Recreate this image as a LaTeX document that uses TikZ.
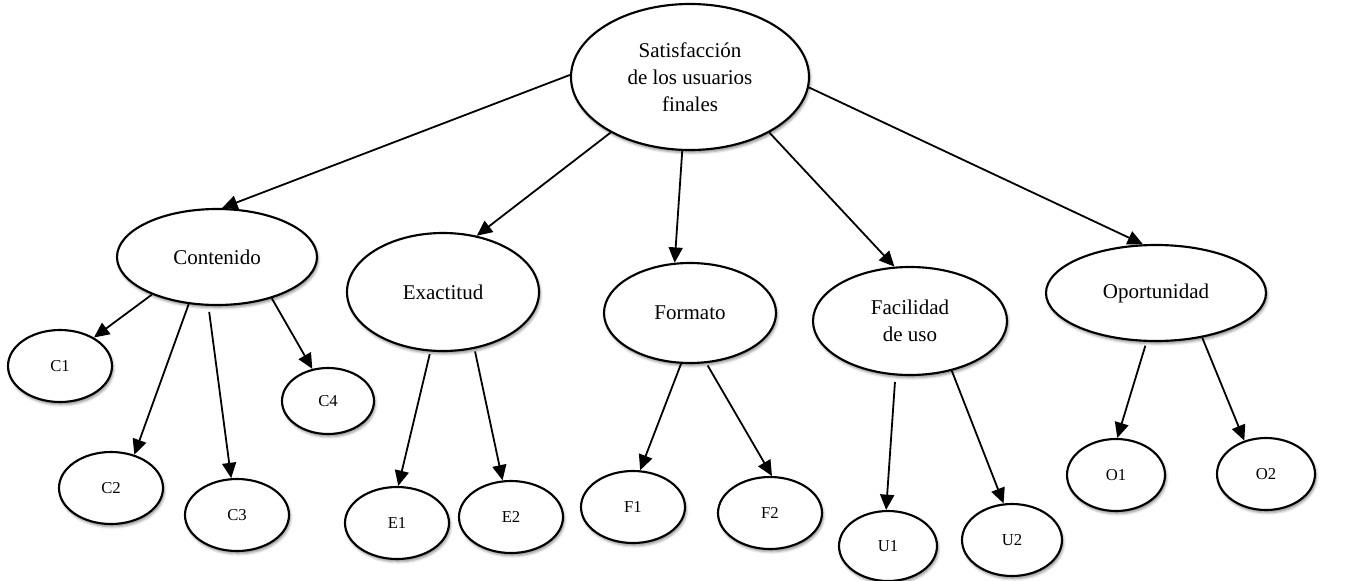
\documentclass[tikz,border=0pt]{standalone}
\usepackage{fontspec}
\setmainfont{Liberation Serif}
\usetikzlibrary{shapes}
\usetikzlibrary{shadows.blur}
\usetikzlibrary{arrows.meta}

\tikzset{
  elip/.style={draw, ellipse, line width=1.6pt, fill=white, inner sep=0pt, align=center,
    blur shadow={shadow xshift=1pt, shadow yshift=-2pt, shadow blur radius=2pt, shadow opacity=45}},
  bigelip/.style={elip, font=\fontsize{15.75}{20.25}\selectfont},
  smallelip/.style={elip, minimum width=78pt, minimum height=54pt, font=\fontsize{12.5}{14}\selectfont},
  flecha/.style={line width=1.35pt, -{Triangle[length=11.5pt,width=10.5pt]}}
}

\begin{document}
\begin{tikzpicture}[x=0.75pt,y=0.75pt,yscale=-1,xscale=1]
\useasboundingbox (0,0) rectangle (1351,581);

%Shape: Ellipse [root]
\node [bigelip, minimum width=178.5pt, minimum height=109.5pt] (root) at (690,77) {\raisebox{-3pt}{\parbox{120pt}{\centering Satisfacción\\de los usuarios\\finales}}};

%Shape: Ellipse [segundo nivel]
\node [bigelip, minimum width=150pt, minimum height=72pt] (cont) at (217,257) {Contenido};
\node [bigelip, minimum width=144pt, minimum height=88.5pt] (exac) at (443,292) {Exactitud};
\node [bigelip, minimum width=129pt, minimum height=75pt] (form) at (690,313) {Formato};
\node [bigelip, minimum width=145.5pt, minimum height=81pt] (faci) at (910,321) {Facilidad\\de uso};
\node [bigelip, minimum width=165pt, minimum height=72pt] (opor) at (1156,293) {Oportunidad};

%Shape: Ellipse [tercer nivel]
\node [smallelip] (c1) at (60,366) {C1};
\node [smallelip] (c2) at (111,488) {C2};
\node [smallelip] (c3) at (237,515) {C3};
\node [smallelip, minimum width=69pt, minimum height=49.5pt] (c4) at (328,401) {C4};
\node [smallelip] (e1) at (397,523) {E1};
\node [smallelip] (e2) at (511,517) {E2};
\node [smallelip] (f1) at (633,507) {F1};
\node [smallelip] (f2) at (770,513) {F2};
\node [smallelip, minimum width=73.5pt, minimum height=52.5pt] (u1) at (888,546) {U1};
\node [smallelip, minimum width=75pt] (u2) at (1012,540) {U2};
\node [smallelip, minimum width=73.5pt] (o1) at (1116,475) {O1};
\node [smallelip, minimum width=73.5pt] (o2) at (1266,474) {O2};

%Straight Lines [root]
\draw [flecha] (root.179) -- (cont.84);
\draw [flecha] (root.215) -- (exac.59);
\draw [flecha] (root.264) -- (form.107);
\draw [flecha] (root.325) -- (faci.106);
\draw [flecha] (root.355) -- (opor.105);

%Straight Lines [Contenido]
\draw [flecha] (cont.210) -- (c1.40);
\draw [flecha] (cont.239) -- (c2.55);
\draw [flecha, shorten <=4.5pt] (cont.260) -- (c3.99);
\draw [flecha] (cont.323) -- (c4.116);

%Straight Lines [Exactitud, Formato]
\draw [flecha, shorten <=2pt] (exac.258) -- (e1.88);
\draw [flecha, shorten <=2pt] (exac.299) -- (e2.103);
\draw [flecha] (form.260) -- (f1.79);
\draw [flecha, shorten <=2pt] (form.288) -- (f2.87);

%Straight Lines [Facilidad, Oportunidad]
\draw [flecha, shorten <=5pt] (faci.255) -- (u1.93);
\draw [flecha] (faci.310) -- (u2.103);
\draw [flecha, shorten <=3pt] (opor.259) -- (o1.88);
\draw [flecha] (opor.316) -- (o2.123);

\end{tikzpicture}
\end{document}
